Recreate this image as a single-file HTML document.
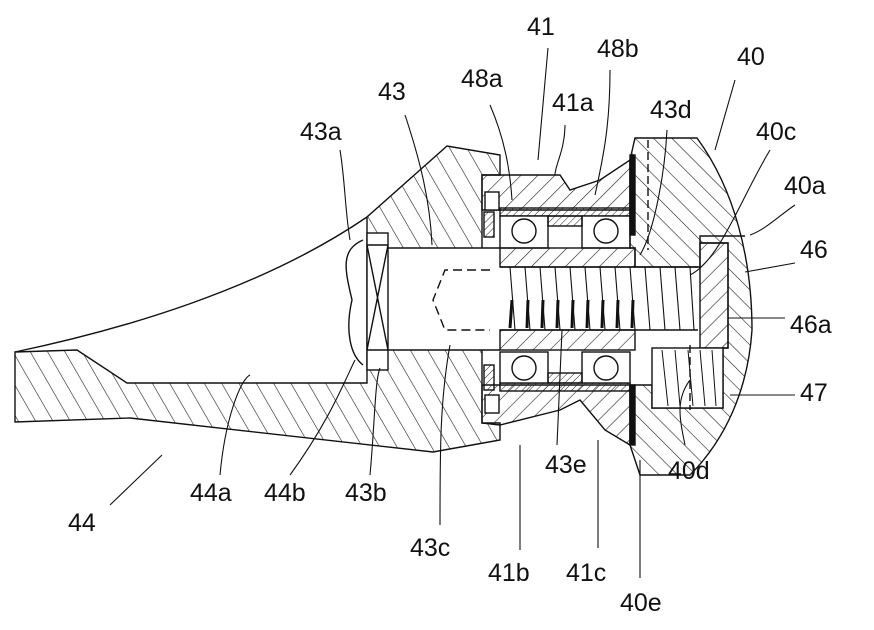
<!DOCTYPE html>
<html><head><meta charset="utf-8"><style>
html,body{margin:0;padding:0;background:#fff}
svg{display:block}
text{font-family:"Liberation Sans",sans-serif;font-size:25px;fill:#111}
</style></head><body>
<svg width="874" height="630" viewBox="0 0 874 630" xmlns="http://www.w3.org/2000/svg">
<defs>
<pattern id="h" width="15" height="15" patternUnits="userSpaceOnUse" patternTransform="rotate(-30)">
<line x1="0" y1="0" x2="0" y2="15" stroke="#222" stroke-width="1.2"/></pattern>
<pattern id="hs" width="12" height="12" patternUnits="userSpaceOnUse" patternTransform="rotate(45)">
<line x1="0" y1="0" x2="0" y2="12" stroke="#222" stroke-width="1.2"/></pattern>
<pattern id="h2" width="13" height="13" patternUnits="userSpaceOnUse" patternTransform="rotate(-45)">
<line x1="0" y1="0" x2="0" y2="13" stroke="#222" stroke-width="1.2"/></pattern>
<pattern id="h3" width="5" height="5" patternUnits="userSpaceOnUse" patternTransform="rotate(45)">
<line x1="0" y1="0" x2="0" y2="5" stroke="#222" stroke-width="1"/></pattern>
</defs>
<g stroke="#111" stroke-width="1.4" fill="none">
<!-- arm 44 -->
<path d="M15,352 L77,350 L127,383 L367,383 L367,217 L447,146 L500,155 L500,175 L482,175 L482,423 L500,423 L500,440 L433,452 L130,418 L15,422 Z" fill="url(#h)"/>
<path d="M15,352 C120,330 260,290 367,217"/>
<!-- shaft 43 (white) -->
<rect x="388" y="248" width="112" height="102" fill="#fff" stroke="none"/>
<path d="M388,248 L500,248 M388,350 L500,350"/>
<!-- plug -->
<rect x="367" y="233" width="21" height="137" fill="#fff"/>
<path d="M367,245 L388,245 M367,350 L388,350 M367,245 L388,350 M388,245 L367,350"/>
<path d="M490,270 L445,270 L433,300 L445,330 L490,330" stroke-dasharray="9,5"/>
<path d="M363,240 C340,250 345,270 352,300 C345,330 350,355 363,365" />
<!-- housing 41 -->
<path d="M482,175 L560,175 L570,190 L600,180 L630,160 L630,210 L482,210 Z" fill="url(#hs)"/>
<path d="M482,385 L630,385 L630,445 L605,430 L580,400 L560,410 L500,425 L482,423 Z" fill="url(#hs)"/>
<rect x="485" y="192" width="14" height="18" fill="#fff"/>
<rect x="485" y="395" width="14" height="18" fill="#fff"/>
<rect x="484" y="212" width="10" height="25" fill="url(#h3)"/>
<rect x="484" y="365" width="10" height="25" fill="url(#h3)"/>
<!-- bearings -->
<rect x="500" y="208" width="130" height="8" fill="url(#h3)"/>
<rect x="500" y="383" width="130" height="8" fill="url(#h3)"/>
<rect x="500" y="216" width="48" height="32" fill="#fff"/>
<rect x="582" y="216" width="48" height="32" fill="#fff"/>
<rect x="500" y="352" width="48" height="31" fill="#fff"/>
<rect x="582" y="352" width="48" height="31" fill="#fff"/>
<rect x="548" y="216" width="34" height="10" fill="url(#h3)"/>
<rect x="548" y="373" width="34" height="10" fill="url(#h3)"/>
<circle cx="524" cy="231" r="12"/><circle cx="606" cy="231" r="12"/>
<circle cx="524" cy="368" r="12"/><circle cx="606" cy="368" r="12"/>
<!-- sleeve -->
<rect x="500" y="248" width="135" height="19" fill="url(#hs)"/>
<rect x="500" y="330" width="135" height="20" fill="url(#hs)"/>
<!-- knob 40 -->
<path d="M635,138 L697,138 C735,190 752,260 752,330 C748,390 725,440 690,475 L640,475 L630,445 L630,385 L652,385 L652,408 L723,408 L723,348 L728,348 L728,243 L700,243 L700,267 L635,267 L635,248 L630,248 L630,160 Z" fill="url(#h2)"/>
<rect x="700" y="243" width="28" height="105" fill="url(#hs)"/>
<path d="M700,243 L700,236 L745,236"/>
<rect x="652" y="348" width="71" height="60" fill="#fff"/>
<path d="M662,350 L668,406 M675,350 L680,406 M688,350 L693,406 M700,350 L705,406 M712,350 L716,406" stroke-width="1"/>
<rect x="630" y="155" width="5" height="80" fill="#111"/>
<rect x="630" y="385" width="5" height="60" fill="#111"/>
<!-- spring -->
<path d="M500,267 L698,267 M500,330 L698,330"/>
<g stroke-width="1.1">
<path d="M510,267 L515,330 M525,267 L530,330 M540,267 L545,330 M555,267 L560,330 M570,267 L575,330 M585,267 L590,330 M600,267 L605,330 M615,267 L620,330 M630,267 L635,330 M645,267 L650,330 M660,267 L665,330 M675,267 L680,330 M690,267 L694,330"/>
</g>
<path d="M512,300 L510,328 M528,300 L527,328 M543,300 L542,328 M558,300 L557,328 M573,300 L572,328 M588,300 L587,328 M603,300 L602,328 M618,300 L617,328 M633,300 L632,328" stroke-width="3"/>
<path d="M648,140 L648,250 M690,345 L690,410" stroke-dasharray="8,4"/>
<!-- leaders -->
<g stroke-width="1.1">
<path d="M340,150 C345,180 345,210 350,240"/>
<path d="M405,115 C420,160 430,200 432,245"/>
<path d="M490,105 C505,140 510,170 512,200"/>
<path d="M548,48 L538,160"/>
<path d="M565,125 C565,150 555,165 555,175"/>
<path d="M610,70 C610,120 605,150 595,195"/>
<path d="M667,130 C665,170 655,230 640,255"/>
<path d="M735,80 L715,150"/>
<path d="M770,150 C740,200 720,260 690,275"/>
<path d="M795,205 C780,215 765,230 750,235"/>
<path d="M795,263 L745,272"/>
<path d="M785,318 L728,318"/>
<path d="M795,395 L730,395"/>
<path d="M110,505 L162,455"/>
<path d="M220,475 C225,420 240,380 250,375"/>
<path d="M290,475 C330,420 345,380 355,360"/>
<path d="M370,475 C375,420 375,380 380,368"/>
<path d="M440,525 C440,450 440,400 450,345"/>
<path d="M520,550 L520,445"/>
<path d="M557,445 L562,330"/>
<path d="M598,548 L598,440"/>
<path d="M640,578 L640,460"/>
<path d="M685,445 C680,420 675,400 690,380"/>
</g>
</g>
<g>
<text x="527" y="35">41</text>
<text x="597" y="57">48b</text>
<text x="737" y="65">40</text>
<text x="378" y="100">43</text>
<text x="461" y="87">48a</text>
<text x="552" y="111">41a</text>
<text x="650" y="118">43d</text>
<text x="756" y="140">40c</text>
<text x="300" y="140">43a</text>
<text x="784" y="194">40a</text>
<text x="800" y="258">46</text>
<text x="790" y="333">46a</text>
<text x="800" y="401">47</text>
<text x="68" y="531">44</text>
<text x="190" y="501">44a</text>
<text x="264" y="501">44b</text>
<text x="345" y="501">43b</text>
<text x="410" y="556">43c</text>
<text x="545" y="473">43e</text>
<text x="668" y="479">40d</text>
<text x="488" y="581">41b</text>
<text x="566" y="581">41c</text>
<text x="620" y="611">40e</text>
</g>
</svg>
</body></html>
